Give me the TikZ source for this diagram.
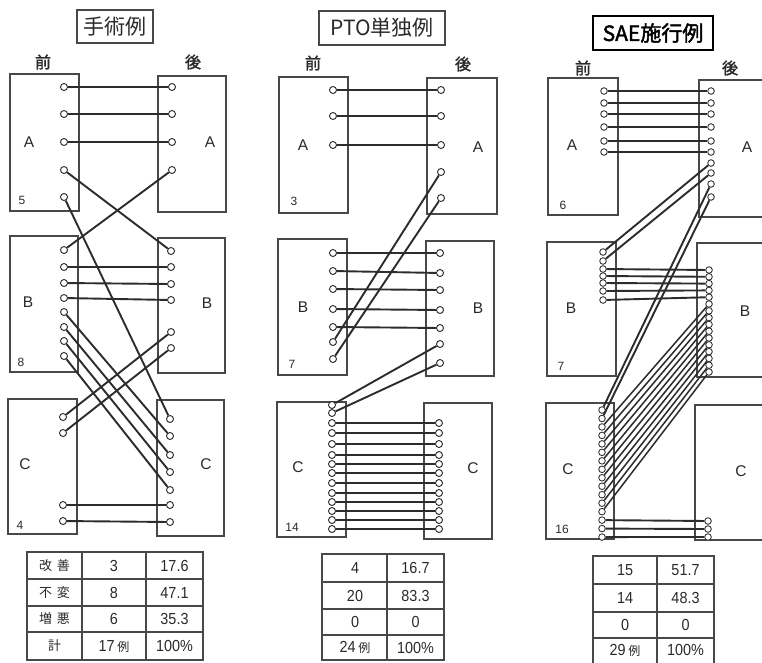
\documentclass[tikz,border=0pt]{standalone}
\usepackage{fontspec}
\setmainfont{Liberation Sans}
\newfontfamily\jp{Noto Sans CJK JP}
\newfontfamily\jpb[FakeBold=2]{Noto Sans CJK JP}
\newfontfamily\nar[FakeStretch=0.9]{Liberation Sans}
\definecolor{linec}{HTML}{2C2C2C}
\definecolor{boxc}{HTML}{484848}
\definecolor{txt}{HTML}{2A2A2A}
\pgfdeclarelayer{bg}\pgfdeclarelayer{mid}\pgfsetlayers{bg,mid,main}
\begin{document}
\begin{tikzpicture}[x=1pt,y=-1pt,
  box/.style={draw=boxc,line width=1.25pt},
  pin/.style={circle,draw=linec,fill=white,line width=0.95pt,minimum size=7pt,inner sep=0pt},
  pinS/.style={circle,draw=linec,fill=white,line width=0.85pt,minimum size=6.6pt,inner sep=0pt},
  wire/.style={draw=linec,line width=1.9pt},
  lab/.style={text=txt,font=\fontsize{15.5}{15.5}\selectfont,inner sep=0pt},
  cnt/.style={text=txt,font=\fontsize{12}{12}\selectfont,inner sep=0pt},
  hd/.style={text=txt,font=\jpb\fontsize{16}{16}\selectfont,inner sep=0pt},
  ttl/.style={draw=boxc,line width=1.4pt,text=txt,font=\jp\fontsize{21}{21}\selectfont,inner sep=0pt},
  tb/.style={text=txt,font=\nar\fontsize{16}{16}\selectfont,inner sep=0pt},
  tj/.style={text=txt,font=\jp\fontsize{13}{13}\selectfont,inner sep=0pt},
  tline/.style={draw=boxc,line width=1.1pt}
]
\useasboundingbox (0,0) rectangle (762,662);
\begin{pgfonlayer}{bg}
\fill[white] (0,0) rectangle (762,662);
\end{pgfonlayer}
\newcommand\rei{\jp\fontsize{12}{12}\selectfont 例}

% ================= Panel 1 =================
\node[ttl,minimum width=76pt,minimum height=33pt] (t1) at (115,26.5) {手術例};
\node[hd] (p1pre) at (43,62) {前};
\node[hd] (p1post) at (193,62) {後};
\begin{pgfonlayer}{bg}
\draw[box] (10,74) rectangle (79,211);
\draw[box] (158,76) rectangle (226,212);
\draw[box] (10,236) rectangle (78,372);
\draw[box] (158,238) rectangle (225,373);
\draw[box] (8,399) rectangle (77,534);
\draw[box] (157,400) rectangle (224,536);
\end{pgfonlayer}
\node[lab] (p1a1) at (29,142) {A};
\node[lab] (p1a2) at (210,142) {A};
\node[lab] (p1b1) at (28,302) {B};
\node[lab] (p1b2) at (207,303) {B};
\node[lab] (p1c1) at (25,464) {C};
\node[lab] (p1c2) at (206,464) {C};
\node[cnt] (p1n1) at (22,200) {5};
\node[cnt] (p1n2) at (21,362) {8};
\node[cnt] (p1n3) at (20,525) {4};
\foreach \y [count=\i] in {87,114,142,170,197} \node[pin] (p1la\i) at (64,\y) {};
\foreach \y [count=\i] in {87,114,142,170} \node[pin] (p1ra\i) at (172,\y) {};
\foreach \y [count=\i] in {250,267,283,298,312,327,341,356} \node[pin] (p1lb\i) at (64,\y) {};
\foreach \y [count=\i] in {251,267,284,300,332,348} \node[pin] (p1rb\i) at (171,\y) {};
\foreach \y [count=\i] in {417,433,505,521} \node[pin] (p1lc\i) at (63,\y) {};
\foreach \y [count=\i] in {419,436,455,472,490,505,522} \node[pin] (p1rc\i) at (170,\y) {};
\begin{pgfonlayer}{mid}
\foreach \a/\b in {p1la1/p1ra1,p1la2/p1ra2,p1la3/p1ra3,p1la4/p1rb1,p1ra4/p1lb1,p1la5/p1rc1,
  p1lb2/p1rb2,p1lb3/p1rb3,p1lb4/p1rb4,p1lb5/p1rc2,p1lb6/p1rc3,p1lb7/p1rc4,p1lb8/p1rc5,
  p1rb5/p1lc1,p1rb6/p1lc2,p1lc3/p1rc6,p1lc4/p1rc7}
  \draw[wire] (\a) -- (\b);
\end{pgfonlayer}
% table 1
\draw[tline] (27,552) rectangle (203,660);
\draw[tline] (82,552) -- (82,660) (146,552) -- (146,660);
\draw[tline] (27,579) -- (203,579) (27,606) -- (203,606);
\draw[draw=boxc,line width=1.9pt] (27,632) -- (203,632);
\node[tj] (q1a) at (54.5,565.5) {改\hspace{5pt}善};
\node[tj] (q1b) at (54.5,592.5) {不\hspace{5pt}変};
\node[tj] (q1c) at (54.5,619) {増\hspace{5pt}悪};
\node[tj] (q1d) at (54.5,646) {計};
\node[tb] (q1e) at (114,565.5) {3};
\node[tb] (q1f) at (114,592.5) {8};
\node[tb] (q1g) at (114,619) {6};
\node[tb] (q1h) at (114,646) {17\,\rei};
\node[tb] (q1i) at (174.5,565.5) {17.6};
\node[tb] (q1j) at (174.5,592.5) {47.1};
\node[tb] (q1k) at (174.5,619) {35.3};
\node[tb] (q1l) at (174.5,646) {100\%};

% ================= Panel 2 =================
\node[ttl,minimum width=126pt,minimum height=34pt] (t2) at (382,28) {PTO単独例};
\node[hd] (p2pre) at (313,63) {前};
\node[hd] (p2post) at (463,64) {後};
\begin{pgfonlayer}{bg}
\draw[box] (279,77) rectangle (348,213);
\draw[box] (427,78) rectangle (497,214);
\draw[box] (278,239) rectangle (347,375);
\draw[box] (426,241) rectangle (494,376);
\draw[box] (277,402) rectangle (346,537);
\draw[box] (424,403) rectangle (492,539);
\end{pgfonlayer}
\node[lab] (p2a1) at (303,145) {A};
\node[lab] (p2a2) at (478,147) {A};
\node[lab] (p2b1) at (303,307) {B};
\node[lab] (p2b2) at (478,308) {B};
\node[lab] (p2c1) at (298,467) {C};
\node[lab] (p2c2) at (473,468) {C};
\node[cnt] (p2n1) at (294,201) {3};
\node[cnt] (p2n2) at (292,364) {7};
\node[cnt] (p2n3) at (292,527) {14};
\foreach \y [count=\i] in {90,116,145} \node[pin] (p2la\i) at (333,\y) {};
\foreach \y [count=\i] in {90,116,145,172,198} \node[pin] (p2ra\i) at (441,\y) {};
\foreach \y [count=\i] in {253,271,289,309,327,342,359} \node[pin] (p2lb\i) at (333,\y) {};
\foreach \y [count=\i] in {253,273,290,310,328,344,363} \node[pin] (p2rb\i) at (440,\y) {};
\foreach \y [count=\i] in {405,413,423,433,444,455,464,473,483,493,502,511,520,529} \node[pin] (p2lc\i) at (332,\y) {};
\foreach \y [count=\i] in {423,433,444,455,464,473,483,493,502,511,520,529} \node[pin] (p2rc\i) at (439,\y) {};
\begin{pgfonlayer}{mid}
\foreach \a/\b in {p2la1/p2ra1,p2la2/p2ra2,p2la3/p2ra3,p2ra4/p2lb6,p2ra5/p2lb7,
  p2lb1/p2rb1,p2lb2/p2rb2,p2lb3/p2rb3,p2lb4/p2rb4,p2lb5/p2rb5,p2rb6/p2lc1,p2rb7/p2lc2}
  \draw[wire] (\a) -- (\b);
\foreach \i [evaluate=\i as \j using int(\i+2)] in {1,...,12}
  \draw[wire] (p2lc\j) -- (p2rc\i);
\end{pgfonlayer}
% table 2
\draw[tline] (322,554) rectangle (444,660);
\draw[tline] (387,554) -- (387,660);
\draw[tline] (322,582) -- (444,582) (322,609) -- (444,609);
\draw[draw=boxc,line width=1.9pt] (322,635) -- (444,635);
\node[tb] (q2a) at (355,568) {4};
\node[tb] (q2b) at (355,595.5) {20};
\node[tb] (q2c) at (355,622) {0};
\node[tb] (q2d) at (355,647.5) {24\,\rei};
\node[tb] (q2e) at (415.5,568) {16.7};
\node[tb] (q2f) at (415.5,595.5) {83.3};
\node[tb] (q2g) at (415.5,622) {0};
\node[tb] (q2h) at (415.5,647.5) {100\%};

% ================= Panel 3 =================
\node[ttl,line width=2.2pt,draw=black,text=black,font=\jpb\fontsize{21}{21}\selectfont,minimum width=120pt,minimum height=34pt] (t3) at (653,33) {SAE施行例};
\node[hd] (p3pre) at (583,68) {前};
\node[hd] (p3post) at (730,68) {後};
\begin{pgfonlayer}{bg}
\draw[box] (548,78) rectangle (618,215);
\draw[box] (699,80) rectangle (775,217);
\draw[box] (547,242) rectangle (616,376);
\draw[box] (697,243) rectangle (775,377);
\draw[box] (546,403) rectangle (614,539);
\draw[box] (695,405) rectangle (775,540);
\end{pgfonlayer}
\node[lab] (p3a1) at (572,145) {A};
\node[lab] (p3a2) at (747,147) {A};
\node[lab] (p3b1) at (571,308) {B};
\node[lab] (p3b2) at (745,311) {B};
\node[lab] (p3c1) at (568,469) {C};
\node[lab] (p3c2) at (741,471) {C};
\node[cnt] (p3n1) at (563,205) {6};
\node[cnt] (p3n2) at (561,366) {7};
\node[cnt] (p3n3) at (562,529) {16};
\foreach \y [count=\i] in {91,103,114,127,141,152} \node[pinS] (p3la\i) at (604,\y) {};
\foreach \y [count=\i] in {91,103,114,127,141,152,163,173,184,197} \node[pinS] (p3ra\i) at (711,\y) {};
\foreach \y [count=\i] in {252,261,269,276,283,291,300} \node[pinS] (p3lb\i) at (603,\y) {};
\foreach \k in {1,...,16} {
  \pgfmathsetmacro\yy{270+6.8*(\k-1)}
  \node[pinS] (p3rb\k) at (709,\yy) {};
}
\foreach \k in {1,...,16} {
  \pgfmathsetmacro\yy{410+8.47*(\k-1)}
  \node[pinS] (p3lc\k) at (602,\yy) {};
}
\foreach \y [count=\i] in {521,529,537} \node[pinS] (p3rc\i) at (708,\y) {};
\begin{pgfonlayer}{mid}
\foreach \i in {1,...,6} \draw[wire] (p3la\i) -- (p3ra\i);
\foreach \a/\b in {p3lb1/p3ra7,p3lb2/p3ra8,p3ra9/p3lc1,p3ra10/p3lc2,
  p3lc14/p3rc1,p3lc15/p3rc2,p3lc16/p3rc3}
  \draw[wire] (\a) -- (\b);
\foreach \i [evaluate=\i as \j using int(\i+2)] in {1,...,5}
  \draw[wire] (p3lb\j) -- (p3rb\i);
\foreach \i [evaluate=\i as \j using int(\i+2), evaluate=\i as \m using int(\i+5)] in {1,...,11}
  \draw[wire,line width=1.5pt] (p3lc\j) -- (p3rb\m);
\end{pgfonlayer}
% table 3
\draw[tline] (593,556) rectangle (714,664);
\draw[tline] (657,556) -- (657,664);
\draw[tline] (593,584) -- (714,584) (593,612) -- (714,612);
\draw[draw=boxc,line width=1.9pt] (593,638) -- (714,638);
\node[tb] (q3a) at (625,570) {15};
\node[tb] (q3b) at (625,598) {14};
\node[tb] (q3c) at (625,625) {0};
\node[tb] (q3d) at (625,650) {29\,\rei};
\node[tb] (q3e) at (685.5,570) {51.7};
\node[tb] (q3f) at (685.5,598) {48.3};
\node[tb] (q3g) at (685.5,625) {0};
\node[tb] (q3h) at (685.5,650) {100\%};
\end{tikzpicture}
\end{document}
